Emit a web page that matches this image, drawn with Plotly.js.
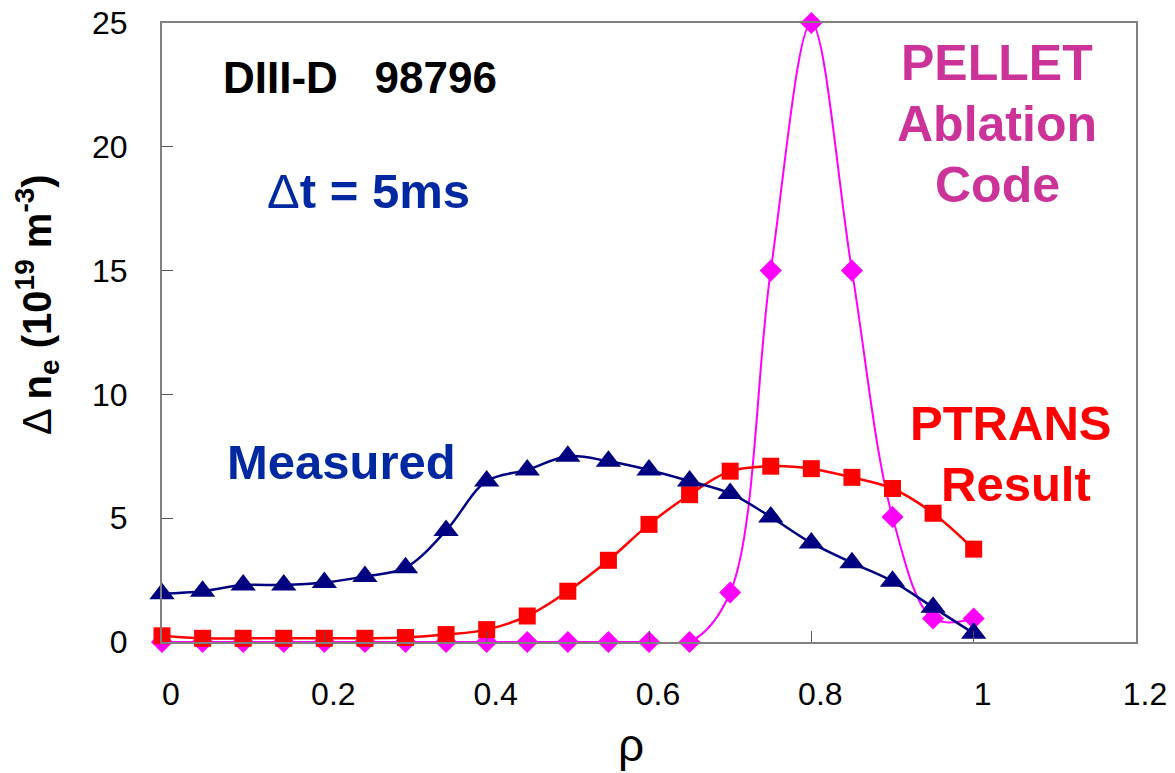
<!DOCTYPE html>
<html>
<head>
<meta charset="utf-8">
<script src="https://cdn.plot.ly/plotly-3.0.1.min.js"></script>
<style>html,body{margin:0;padding:0;background:#fff;}#chart{width:1175px;height:773px;}</style>
</head>
<body>
<div id="chart"></div>
<script>
// Data
const rho = [0, 0.05, 0.1, 0.15, 0.2, 0.25, 0.3, 0.35, 0.4, 0.45, 0.5, 0.55, 0.6, 0.65, 0.7, 0.75, 0.8, 0.85, 0.9, 0.95, 1.0];
const measured = [1.95, 2.05, 2.3, 2.3, 2.4, 2.65, 3.0, 4.5, 6.5, 6.95, 7.5, 7.3, 6.95, 6.5, 6.0, 5.05, 4.0, 3.2, 2.45, 1.4, 0.35];
const ptrans = [0.25, 0.15, 0.15, 0.15, 0.15, 0.15, 0.18, 0.3, 0.5, 1.05, 2.05, 3.3, 4.75, 5.95, 6.9, 7.1, 7.0, 6.65, 6.2, 5.2, 3.75];
const pellet = [0, 0, 0, 0, 0, 0, 0, 0, 0, 0, 0, 0, 0, 0, 2.0, 15, 25, 15, 5.05, 0.95, 0.95];
const xTicks = [0, 0.2, 0.4, 0.6, 0.8, 1, 1.2];
const yTicks = [0, 5, 10, 15, 20, 25];

const FONT = "Liberation Sans, Arial, Helvetica, sans-serif";

const traces = [
  {x: rho, y: pellet, type: 'scatter', mode: 'lines+markers', name: 'PELLET Ablation Code',
   line: {color: '#FF00FF', width: 2, shape: 'spline', smoothing: 1},
   marker: {symbol: 'diamond', size: 17, color: '#FF00FF'}, cliponaxis: false},
  {x: rho, y: ptrans, type: 'scatter', mode: 'lines+markers', name: 'PTRANS Result',
   line: {color: '#FF0000', width: 2.5, shape: 'spline', smoothing: 1},
   marker: {symbol: 'square', size: 17, color: '#FF0000'}, cliponaxis: false},
  {x: rho, y: measured, type: 'scatter', mode: 'lines+markers', name: 'Measured',
   line: {color: '#000080', width: 2.5, shape: 'spline', smoothing: 1},
   marker: {symbol: 'triangle-up', size: 22, color: '#000080'}, cliponaxis: false}
];

function ann(x, y, text, size, color, extra) {
  return Object.assign({xref: 'paper', yref: 'paper', x: x, y: y, xanchor: 'center', yanchor: 'middle',
    showarrow: false, align: 'center', text: text, font: {size: size, color: color, family: FONT}}, extra || {});
}
// pixel -> paper helpers for the plot area (162..1136, 23..642)
const px = v => (v - 162) / 974;
const py = v => (642 - v) / 619;

const layout = {
  width: 1175, height: 773,
  margin: {l: 162, r: 39, t: 23, b: 131},
  paper_bgcolor: '#fff', plot_bgcolor: '#fff',
  showlegend: false,
  font: {family: FONT, color: '#000'},
  xaxis: {
    range: [0, 1.2], tickvals: xTicks, ticktext: xTicks.map(String),
    ticks: 'inside', ticklen: 11, tickcolor: '#555', tickwidth: 1,
    showgrid: false, zeroline: false,
    showline: true, linecolor: '#808080', linewidth: 2, mirror: true,
    tickfont: {size: 32, family: FONT, color: '#000'},
    ticklabelstandoff: 23, ticklabelshift: 9
  },
  yaxis: {
    range: [0, 25], tickvals: yTicks, ticktext: yTicks.map(String),
    ticks: 'inside', ticklen: 11, tickcolor: '#555', tickwidth: 1,
    showgrid: false, zeroline: false,
    showline: true, linecolor: '#808080', linewidth: 2, mirror: true,
    tickfont: {size: 32, family: FONT, color: '#000'},
    ticklabelstandoff: 26
  },
  annotations: [
    ann(px(360), py(77), '<b>DIII-D   98796</b>', 44, '#000'),
    ann(px(368), py(191), 'Δ<b>t = 5ms</b>', 49, '#0028A0'),
    ann(px(341), py(462), '<b>Measured</b>', 49, '#0028A0'),
    ann(px(997), py(63), '<b>PELLET</b>', 50, '#CC3399'),
    ann(px(997), py(124), '<b>Ablation</b>', 50, '#CC3399'),
    ann(px(997), py(185), '<b>Code</b>', 50, '#CC3399'),
    ann(px(1010), py(423), '<b>PTRANS</b>', 49, '#FF0000'),
    ann(px(1016), py(484), '<b>Result</b>', 49, '#FF0000'),
    ann(px(37), py(305), 'Δ <b>n<sub>e</sub> (10<sup>19</sup> m<sup>-3</sup>)</b>', 40, '#000', {textangle: -90}),
    ann(px(631), py(745), 'ρ', 46, '#000')
  ]
};

Plotly.newPlot('chart', traces, layout, {staticPlot: true, displayModeBar: false});
</script>
</body>
</html>
